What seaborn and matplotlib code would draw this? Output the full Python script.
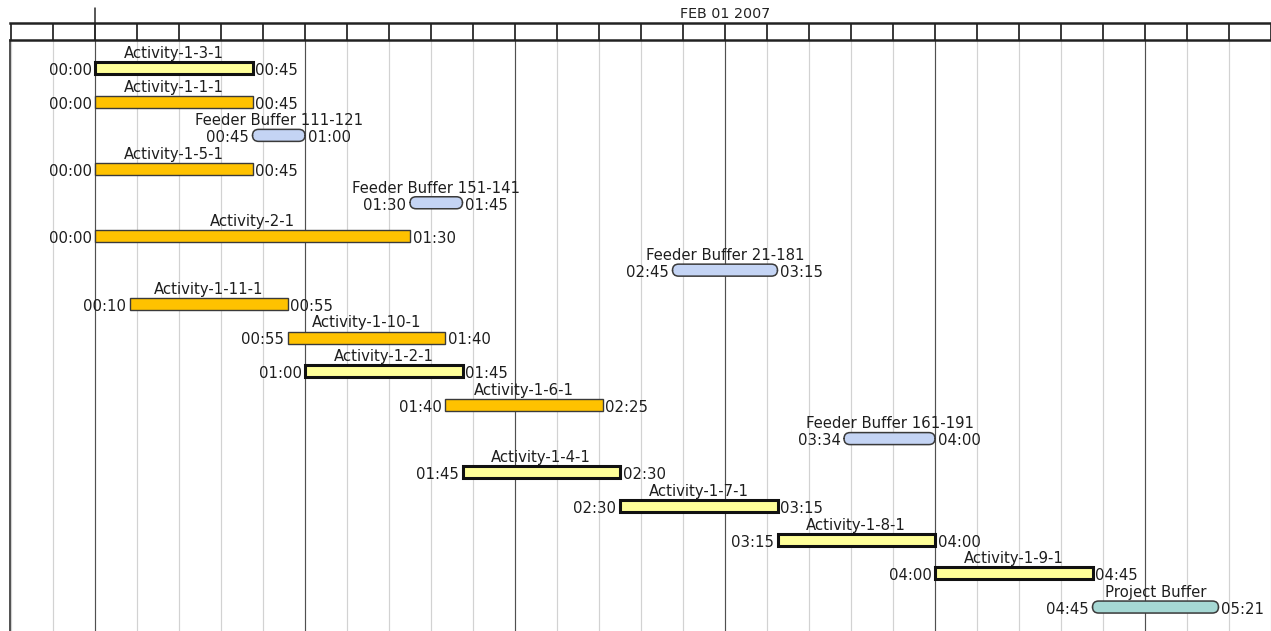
import numpy as np
import matplotlib
matplotlib.use("Agg")
import matplotlib.pyplot as plt
from matplotlib.patches import FancyBboxPatch
import seaborn as sns

# ============================
# DADOS
# ============================
task_names = [
    "Activity-1-3-1", "Activity-1-1-1", "Feeder Buffer 111-121", "Activity-1-5-1",
    "Feeder Buffer 151-141", "Activity-2-1", "Feeder Buffer 21-181", "Activity-1-11-1",
    "Activity-1-10-1", "Activity-1-2-1", "Activity-1-6-1", "Feeder Buffer 161-191",
    "Activity-1-4-1", "Activity-1-7-1", "Activity-1-8-1", "Activity-1-9-1", "Project Buffer",
]
start_times = [
    "00:00", "00:00", "00:45", "00:00", "01:30", "00:00", "02:45", "00:10",
    "00:55", "01:00", "01:40", "03:34", "01:45", "02:30", "03:15", "04:00", "04:45",
]
end_times = [
    "00:45", "00:45", "01:00", "00:45", "01:45", "01:30", "03:15", "00:55",
    "01:40", "01:45", "02:25", "04:00", "02:30", "03:15", "04:00", "04:45", "05:21",
]
task_kinds = [
    "critical", "feeding", "buffer", "feeding", "buffer", "feeding", "buffer", "feeding",
    "feeding", "critical", "feeding", "buffer", "critical", "critical", "critical", "critical",
    "project",
]
day_label = "FEB 01 2007"

styles = {
    "critical": dict(face="#FFFF99", edge="#111111", lw=2.2),
    "feeding": dict(face="#FFC200", edge="#3a3a3a", lw=1.0),
    "buffer": dict(face="#C4D4F4", edge="#3a3a3a", lw=1.1),
    "project": dict(face="#A6D8D4", edge="#3a3a3a", lw=1.1),
}


def to_min(s):
    h, m = s.split(":")
    return int(h) * 60 + int(m)


starts = np.array([to_min(s) for s in start_times])
ends = np.array([to_min(s) for s in end_times])

# ============================
# FIGURA
# ============================
sns.set_theme(style="white")
plt.rcParams["font.family"] = ["DejaVu Sans"]
W, H = 1271, 631
fig = plt.figure(figsize=(W / 100, H / 100), dpi=100)

px_min = 3.5        # pixels por minuto
px_row = 33.69      # pixels por linha
x_lo = -85 / px_min
x_hi = x_lo + (W - 10) / px_min
top_row = (40 - 68) / px_row
bot_row = top_row + (H - 40) / px_row

ax = fig.add_axes([10 / W, 0, 1 - 10 / W, (H - 40) / H])
axh = fig.add_axes([10 / W, (H - 40) / H, 1 - 10 / W, 17 / H])

for a in (ax, axh):
    a.set_xlim(x_lo, x_hi)
    a.set_xticks([])
    a.set_yticks([])
    a.set_facecolor("white")
ax.set_ylim(bot_row, top_row)
axh.set_ylim(0, 1)

# grade vertical a cada 12 minutos
grid_ticks = np.arange(-24, 337, 12)
for t in grid_ticks:
    if t % 60 == 0:
        ax.axvline(t, color="#505050", lw=0.85, zorder=0)
    else:
        ax.axvline(t, color="#d2d2d2", lw=0.85, zorder=0)
    axh.axvline(t, color="#2a2a2a", lw=1.3)

# linha de inicio do dia sobe acima do cabecalho
axh.axvline(0, ymin=0, ymax=1 + 15 / 17, color="#2a2a2a", lw=1.1, clip_on=False)
axh.text(180, 1.5, day_label, transform=axh.get_xaxis_transform(),
         ha="center", va="center", fontsize=10.3, color="#222222")

for side, sp in ax.spines.items():
    sp.set_visible(side == "left")
ax.spines["left"].set_color("#222222")
ax.spines["left"].set_linewidth(1.1)
for side, sp in axh.spines.items():
    sp.set_visible(side in ("top", "bottom"))
    sp.set_color("#222222")
    sp.set_linewidth(1.8)

# ============================
# BARRAS E BUFFERS
# ============================
bar_h = 12 / px_row
aspect = px_min / px_row
fs = 10.7
for i, (name, s, e, kind) in enumerate(zip(task_names, starts, ends, task_kinds)):
    st = styles[kind]
    if kind in ("critical", "feeding"):
        ax.barh(i, e - s, left=s, height=bar_h, color=st["face"],
                edgecolor=st["edge"], linewidth=st["lw"], zorder=3)
    else:
        ax.add_patch(FancyBboxPatch(
            (s, i - bar_h / 2), e - s, bar_h,
            boxstyle="round,pad=0,rounding_size=1.75", mutation_aspect=aspect,
            facecolor=st["face"], edgecolor=st["edge"], linewidth=st["lw"], zorder=3))
    ax.text((s + e) / 2, i - 0.3, name, ha="center", va="baseline",
            fontsize=fs, color="#1e1e1e", zorder=4)
    ax.text(s - 1.0, i + 0.07, start_times[i], ha="right", va="center",
            fontsize=fs, color="#1e1e1e", zorder=4)
    ax.text(e + 0.8, i + 0.07, end_times[i], ha="left", va="center",
            fontsize=fs, color="#1e1e1e", zorder=4)

fig.savefig("out.png", dpi=100, facecolor="white")
